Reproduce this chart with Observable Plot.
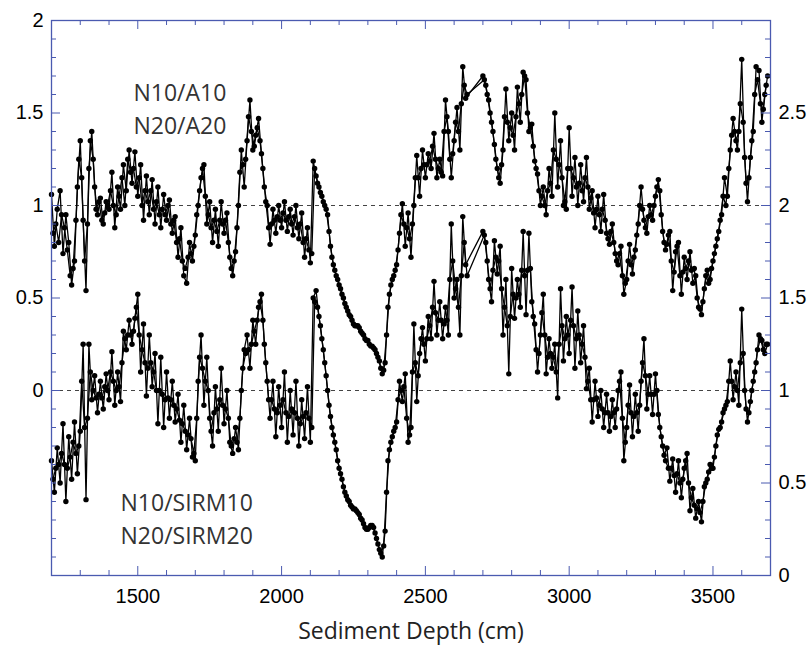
<!DOCTYPE html>
<html><head><meta charset="utf-8">
<script src="https://cdn.jsdelivr.net/npm/d3@7"></script>
<script src="https://cdn.jsdelivr.net/npm/@observablehq/plot@0.6"></script>
<style>body{margin:0;background:#fff;} #chart svg{display:block}</style>
</head><body><div id="chart"></div>
<script>
// ---- Data ----
// Upper panel N10/A10 (left axis), 10 cm sampling, 1200-2640 and 2700-3690 cm
const upperN10_a = [
  1.06,0.78,0.98,1.08,0.74,0.95,0.80,0.57,0.70,1.10,
  1.35,0.92,0.54,1.20,1.40,1.10,0.95,1.04,0.90,1.02,
  0.98,1.18,0.88,1.10,0.98,1.22,1.08,1.30,1.12,1.29,
  1.05,1.22,0.92,1.16,0.95,1.14,0.90,1.10,0.88,1.06,
  0.92,1.03,0.85,0.94,0.72,0.88,0.62,0.58,0.80,0.70,
  0.84,1.00,1.15,1.22,0.90,1.02,0.80,0.98,0.78,1.02,
  0.85,0.96,0.72,0.62,0.75,1.00,1.30,1.10,1.35,1.57,
  1.30,1.38,1.47,1.28,1.10,1.00,0.79,0.98,0.85,1.00,
  0.88,1.02,0.86,0.98,0.84,1.00,0.82,0.96,0.72,0.88,
  0.69,1.24,1.16,1.10,1.05,1.00,0.95,0.78,0.68,0.62,
  0.57,0.52,0.47,0.43,0.40,0.36,0.35,0.34,0.31,0.28,
  0.27,0.24,0.23,0.20,0.16,0.09,0.15,0.45,0.57,0.62,
  0.68,0.85,1.01,0.78,0.96,0.72,1.00,1.27,1.05,1.30,
  1.15,1.28,1.20,1.39,1.15,1.25,1.16,1.57,1.40,1.15,
  1.35,1.53,1.30,1.75,1.58
];
const upperN10_b = [
  1.70,1.65,1.57,1.45,1.33,1.20,1.12,1.30,1.63,1.35,
  1.50,1.30,1.64,1.45,1.72,1.68,1.40,1.44,1.24,1.17,
  1.00,1.10,0.95,1.20,1.05,1.50,1.10,1.35,1.00,0.98,
  1.42,1.05,1.26,1.00,1.22,1.02,1.26,0.98,1.08,0.88,
  1.05,0.86,1.06,0.85,0.79,0.90,0.74,0.68,0.78,0.52,
  0.60,0.79,0.63,0.76,0.90,1.10,0.92,0.85,1.00,0.92,
  1.05,1.14,0.95,0.80,0.79,0.86,0.54,0.75,0.80,0.52,
  0.72,0.60,0.75,0.58,0.62,0.45,0.41,0.55,0.65,0.60,
  0.70,0.78,0.86,0.95,1.15,1.05,1.30,1.47,1.35,1.40,
  1.79,1.26,1.02,1.26,1.40,1.75,1.73,1.45,1.60,1.70
];
// Upper panel N20/A20 (left axis), 10 cm sampling, 1205-2645 and 2705-3685 cm
const upperN20_a = [
  0.85,0.90,0.80,0.95,0.88,0.76,0.62,0.66,0.92,1.25,
  1.15,0.70,0.90,1.35,1.25,0.98,1.02,0.92,0.96,1.00,
  1.08,1.00,0.95,1.05,1.15,1.00,1.25,1.18,1.20,1.10,
  1.15,1.00,1.08,1.02,1.08,0.98,1.02,0.95,0.98,0.95,
  1.00,0.90,0.92,0.80,0.82,0.70,0.66,0.72,0.74,0.78,
  0.95,1.08,1.20,1.05,0.95,0.88,0.92,0.86,0.92,0.90,
  0.92,0.80,0.66,0.70,0.88,1.18,1.22,1.25,1.48,1.40,
  1.32,1.42,1.35,1.20,1.02,0.88,0.90,0.92,0.94,0.92,
  0.96,0.92,0.94,0.90,0.94,0.88,0.90,0.80,0.82,0.76,
  0.74,1.20,1.12,1.07,1.02,0.98,0.86,0.72,0.65,0.60,
  0.55,0.50,0.45,0.41,0.38,0.35,0.35,0.32,0.30,0.27,
  0.25,0.24,0.22,0.18,0.12,0.11,0.30,0.52,0.60,0.65,
  0.76,0.95,0.90,0.88,0.82,0.90,1.15,1.15,1.20,1.22,
  1.22,1.24,1.32,1.25,1.20,1.18,1.40,1.48,1.25,1.28,
  1.45,1.40,1.55,1.65,1.60
];
const upperN20_b = [
  1.68,1.60,1.50,1.40,1.25,1.15,1.22,1.48,1.45,1.42,
  1.38,1.48,1.55,1.60,1.70,1.50,1.42,1.32,1.20,1.08,
  1.05,1.00,1.08,1.12,1.30,1.25,1.22,1.15,1.02,1.20,
  1.20,1.15,1.10,1.12,1.08,1.15,1.10,1.04,0.96,0.98,
  0.95,0.98,0.92,0.82,0.86,0.80,0.70,0.74,0.62,0.58,
  0.70,0.68,0.72,0.84,1.00,0.98,0.88,0.94,0.95,1.00,
  1.10,1.08,0.86,0.76,0.84,0.70,0.64,0.78,0.62,0.64,
  0.66,0.70,0.65,0.66,0.50,0.44,0.48,0.62,0.58,0.66,
  0.74,0.82,0.92,1.05,1.00,1.20,1.38,1.40,1.30,1.55,
  1.45,1.12,1.15,1.35,1.60,1.68,1.55,1.52,1.65
];
// Lower panel N10/SIRM10 (right axis), 10 cm sampling
const lowerN10_a = [
  0.62,0.45,0.69,0.50,0.82,0.40,0.75,0.52,0.83,0.55,
  0.78,1.25,0.41,1.25,0.95,1.08,0.88,1.05,0.90,1.09,
  0.95,1.21,0.92,1.10,0.94,1.32,1.22,1.38,1.25,1.39,
  1.52,1.10,1.36,0.97,1.30,1.02,1.20,0.82,1.18,0.80,
  1.10,0.85,1.05,0.83,0.98,0.72,0.92,0.68,0.85,0.64,
  0.62,1.05,1.30,0.92,1.18,0.85,0.70,1.02,0.78,1.12,
  0.82,1.00,0.72,0.66,0.80,0.68,1.00,1.22,1.30,1.12,
  1.38,1.25,1.45,1.52,1.25,1.05,0.85,1.05,0.75,1.02,
  0.80,1.10,0.72,1.00,0.76,1.05,0.70,0.95,0.74,1.02,
  0.72,1.50,1.54,1.40,1.28,1.15,1.00,0.86,0.76,0.68,
  0.58,0.52,0.45,0.41,0.38,0.36,0.35,0.33,0.30,0.26,
  0.25,0.27,0.26,0.20,0.14,0.10,0.24,0.62,0.72,0.78,
  0.83,1.05,0.94,1.09,0.72,0.80,1.36,0.94,1.20,1.34,
  1.16,1.40,1.28,1.59,1.30,1.48,1.28,1.45,1.30,1.90,
  1.50,1.60,1.30,1.94,1.68
];
const lowerN10_b = [
  1.86,1.80,1.60,1.48,1.81,1.63,1.78,1.30,1.60,1.09,
  1.66,1.39,1.60,1.45,1.86,1.41,1.85,1.48,1.36,1.10,
  1.30,1.52,1.09,1.28,1.12,1.25,0.96,1.55,1.16,1.40,
  1.20,1.56,1.12,1.43,1.15,1.35,1.01,1.12,0.83,1.05,
  0.86,1.00,0.80,0.98,0.78,0.95,0.80,1.00,1.10,0.62,
  0.80,1.03,0.75,0.98,0.78,1.05,1.28,0.90,1.08,0.87,
  1.09,0.87,0.75,0.65,0.69,0.51,0.63,0.45,0.62,0.42,
  0.58,0.66,0.35,0.47,0.31,0.40,0.29,0.48,0.52,0.60,
  0.58,0.70,0.79,0.83,0.90,0.94,1.16,0.95,1.10,0.92,
  1.44,1.00,0.83,0.94,1.05,1.15,1.30,1.27,1.20,1.25
];
// Lower panel N20/SIRM20 (right axis), 10 cm sampling
const lowerN20_a = [
  0.52,0.58,0.60,0.66,0.60,0.58,0.64,0.72,0.66,0.70,
  1.05,0.80,0.85,1.10,1.00,0.96,0.98,0.96,1.02,1.00,
  1.10,1.05,1.00,1.02,1.15,1.28,1.30,1.30,1.32,1.45,
  1.30,1.22,1.15,1.12,1.15,1.10,1.00,1.00,0.98,0.95,
  0.96,0.95,0.92,0.90,0.84,0.82,0.78,0.76,0.74,0.66,
  0.85,1.18,1.12,1.05,1.00,0.78,0.88,0.90,0.95,0.92,
  0.90,0.85,0.70,0.74,0.72,0.85,1.12,1.20,1.22,1.25,
  1.32,1.38,1.48,1.38,1.15,0.95,0.95,0.90,0.88,0.92,
  0.95,0.88,0.86,0.90,0.88,0.85,0.82,0.86,0.88,0.85,
  0.80,1.48,1.45,1.35,1.22,1.08,0.92,0.80,0.72,0.62,
  0.55,0.48,0.43,0.40,0.37,0.36,0.34,0.31,0.28,0.25,
  0.26,0.27,0.23,0.17,0.12,0.16,0.45,0.68,0.75,0.80,
  0.95,1.00,1.02,0.85,0.76,1.10,1.15,1.08,1.28,1.25,
  1.28,1.35,1.45,1.42,1.38,1.38,1.36,1.38,1.60,1.70,
  1.55,1.45,1.62,1.80,1.62
];
const lowerN20_b = [
  1.84,1.70,1.55,1.65,1.72,1.70,1.55,1.45,1.35,1.40,
  1.52,1.50,1.52,1.65,1.62,1.65,1.66,1.40,1.22,1.20,
  1.42,1.30,1.18,1.20,1.18,1.10,1.25,1.35,1.28,1.30,
  1.38,1.35,1.28,1.30,1.25,1.18,1.05,0.95,0.95,0.96,
  0.92,0.90,0.88,0.88,0.86,0.88,0.90,1.05,0.85,0.72,
  0.92,0.88,0.86,0.88,0.92,1.15,1.08,0.98,0.98,0.98,
  1.00,0.80,0.70,0.62,0.58,0.58,0.54,0.55,0.50,0.52,
  0.62,0.50,0.42,0.38,0.36,0.34,0.40,0.50,0.56,0.58,
  0.64,0.76,0.80,0.88,0.92,1.05,1.05,1.02,1.00,1.15,
  1.20,0.90,0.88,1.00,1.10,1.22,1.28,1.22,1.25
];

// Axis ticks
const xLabelTicks = [1500, 2000, 2500, 3000, 3500];
const leftLabelTicks = [0, 0.5, 1, 1.5, 2];
const rightLabelTicks = [0, 0.5, 1, 1.5, 2, 2.5];
const refLines = [0, 1];
const annotations = [
  {label: "N10/A10", x: 1485, y: 1.566},
  {label: "N20/A20", x: 1485, y: 1.388},
  {label: "N10/SIRM10", x: 1440, y: -0.650},
  {label: "N20/SIRM20", x: 1440, y: -0.829}
];

// ---- Build table ----
function segment(vals, start, step, series, shift) {
  return vals.map((v, i) => ({depth: start + i * step, v: v - shift, series}));
}
const data = [
  ...segment(upperN10_a, 1200, 10, "N10/A10", 0), ...segment(upperN10_b, 2700, 10, "N10/A10", 0),
  ...segment(upperN20_a, 1205, 10, "N20/A20", 0), ...segment(upperN20_b, 2705, 10, "N20/A20", 0),
  ...segment(lowerN10_a, 1200, 10, "N10/SIRM10", 1), ...segment(lowerN10_b, 2700, 10, "N10/SIRM10", 1),
  ...segment(lowerN20_a, 1205, 10, "N20/SIRM20", 1), ...segment(lowerN20_b, 2705, 10, "N20/SIRM20", 1)
];

const W = 809, H = 646, mL = 51, mR = 39, mT = 20, mB = 71;
const fw = W - mL - mR, fh = H - mT - mB;
const blue = "#4a5ab0";
const xAll = d3.range(1300, 3700, 100);
const xMajor = xAll.filter(d => d % 500 === 0);
const xMinor = xAll.filter(d => d % 500 !== 0);
const yAll = d3.range(-9, 20).map(i => i / 10);
const isMajorLeft = d => leftLabelTicks.some(t => Math.abs(t - d) < 1e-6);
const isMajorRight = d => rightLabelTicks.some(t => Math.abs(t - 1 - d) < 1e-6);

const chart = Plot.plot({
  width: W, height: H,
  marginLeft: mL, marginRight: mR, marginTop: mT, marginBottom: mB,
  style: {fontFamily: "'Liberation Sans', Arial, sans-serif", fontSize: "20px", color: "#000", background: "#fff"},
  x: {domain: [1200, 3700]},
  y: {domain: [-1, 2]},
  marks: [
    Plot.ruleY(refLines, {stroke: "#444", strokeDasharray: "4,4", strokeWidth: 1.2}),
    Plot.line(data, {x: "depth", y: "v", z: "series", stroke: "#000", strokeWidth: 1.3}),
    Plot.dot(data, {x: "depth", y: "v", r: 2.7, fill: "#000", stroke: null}),
    // ticks (inward)
    Plot.ruleX(xMajor, {stroke: blue, insetTop: fh - 9}),
    Plot.ruleX(xMinor, {stroke: blue, insetTop: fh - 5}),
    Plot.ruleX(xMajor, {stroke: blue, insetBottom: fh - 9}),
    Plot.ruleX(xMinor, {stroke: blue, insetBottom: fh - 5}),
    Plot.ruleY(yAll.filter(isMajorLeft), {stroke: blue, insetRight: fw - 9}),
    Plot.ruleY(yAll.filter(d => !isMajorLeft(d)), {stroke: blue, insetRight: fw - 5}),
    Plot.ruleY(yAll.filter(isMajorRight), {stroke: blue, insetLeft: fw - 9}),
    Plot.ruleY(yAll.filter(d => !isMajorRight(d)), {stroke: blue, insetLeft: fw - 5}),
    Plot.frame({stroke: blue, strokeWidth: 1.3}),
    // axes labels
    Plot.axisX({ticks: xLabelTicks, tickSize: 0, tickPadding: 13, label: null, tickFormat: d => `${d}`}),
    Plot.axisY({anchor: "left", ticks: leftLabelTicks, tickSize: 0, tickPadding: 8, label: null, tickFormat: d => `${d}`}),
    Plot.axisY({anchor: "right", ticks: rightLabelTicks.map(t => t - 1), tickSize: 0, tickPadding: 8, label: null,
      tickFormat: d => `${Math.round((d + 1) * 10) / 10}`}),
    Plot.text(["Sediment Depth (cm)"], {frameAnchor: "bottom", dy: 63, lineAnchor: "bottom",
      fontSize: 23, fontFamily: "'Open Sans', sans-serif", fill: "#222"}),
    Plot.text(annotations, {x: "x", y: "y", text: "label", textAnchor: "start", lineAnchor: "bottom",
      fontSize: 23, fontFamily: "'Open Sans', sans-serif", fill: "#333"})
  ]
});
document.getElementById("chart").appendChild(chart);
</script>
</body></html>
